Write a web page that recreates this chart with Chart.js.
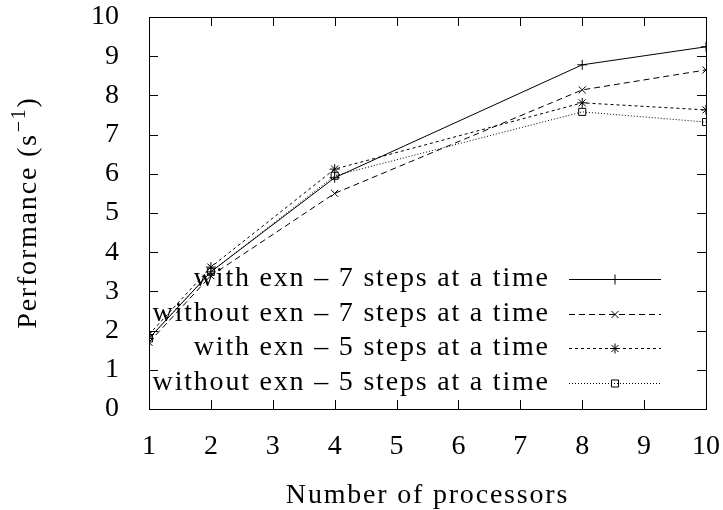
<!DOCTYPE html>
<html>
<head>
<meta charset="utf-8">
<script src="https://cdn.jsdelivr.net/npm/chart.js@4/dist/chart.umd.min.js"></script>
<style>
  html, body { margin: 0; padding: 0; background: #fff; }
  #wrap { width: 723px; height: 510px; }
</style>
</head>
<body>
<div id="wrap"><canvas id="graficoPerformance"></canvas></div>
<script>
// dados
var processadores = [1, 2, 4, 8, 10];
var comExn7 = [1.8, 3.5, 5.9, 8.78, 9.24];
var semExn7 = [1.7, 3.4, 5.5, 8.14, 8.65];
var comExn5 = [1.9, 3.62, 6.12, 7.81, 7.63];
var semExn5 = [1.8, 3.5, 5.95, 7.58, 7.32];
var rotulos = [
	'with exn \u2013 7 steps at a time',
	'without exn \u2013 7 steps at a time',
	'with exn \u2013 5 steps at a time',
	'without exn \u2013 5 steps at a time'
];
var ticksX = [1, 2, 3, 4, 5, 6, 7, 8, 9, 10];
var ticksY = [0, 1, 2, 3, 4, 5, 6, 7, 8, 9, 10];
var tituloX = 'Number of processors';

var fonte = '"Liberation Serif", "DejaVu Serif", serif';
var tamanho = 28;
var espacamento = '1.8px';

function serie(label, valores, tracejado, ponto) {
	return {
		label: label,
		data: valores.map(function(v, i) { return { x: processadores[i], y: v }; }),
		borderColor: '#000',
		backgroundColor: 'rgba(0,0,0,0)',
		borderWidth: 1,
		borderDash: tracejado,
		pointStyle: ponto,
		pointRadius: 5,
		pointBorderColor: '#000',
		pointBorderWidth: 1,
		pointBackgroundColor: 'rgba(0,0,0,0)',
		tension: 0
	};
}

// moldura, ticks internos, titulos dos eixos e legenda no estilo gnuplot
var estiloGnuplot = {
	id: 'estiloGnuplot',
	afterDraw: function(chart) {
		var ctx = chart.ctx;
		var a = chart.chartArea;
		var sx = chart.scales.x, sy = chart.scales.y;
		ctx.save();
		ctx.strokeStyle = '#000';
		ctx.lineWidth = 1;
		ctx.setLineDash([]);
		ctx.strokeRect(a.left + 0.5, a.top + 0.5, a.right - a.left, a.bottom - a.top);
		ctx.beginPath();
		ticksX.forEach(function(t) {
			var px = Math.round(sx.getPixelForValue(t)) + 0.5;
			ctx.moveTo(px, a.bottom); ctx.lineTo(px, a.bottom - 9);
			ctx.moveTo(px, a.top); ctx.lineTo(px, a.top + 9);
		});
		ticksY.forEach(function(t) {
			var py = Math.round(sy.getPixelForValue(t)) + 0.5;
			ctx.moveTo(a.left, py); ctx.lineTo(a.left + 9, py);
			ctx.moveTo(a.right, py); ctx.lineTo(a.right - 9, py);
		});
		ctx.stroke();

		ctx.fillStyle = '#000';
		ctx.letterSpacing = espacamento;

		// titulo do eixo x
		ctx.font = tamanho + 'px ' + fonte;
		ctx.textAlign = 'center';
		ctx.textBaseline = 'alphabetic';
		ctx.fillText(tituloX, (a.left + a.right) / 2, 503);

		// titulo do eixo y com expoente
		ctx.save();
		ctx.translate(36, (a.top + a.bottom) / 2);
		ctx.rotate(-Math.PI / 2);
		ctx.textAlign = 'left';
		var base = 'Performance (s';
		var expo = '\u22121';
		ctx.font = tamanho + 'px ' + fonte;
		var wBase = ctx.measureText(base).width;
		var wFecha = ctx.measureText(')').width;
		ctx.font = Math.round(tamanho * 0.7) + 'px ' + fonte;
		var wExpo = ctx.measureText(expo).width;
		var x0 = -(wBase + wExpo + wFecha) / 2;
		ctx.font = tamanho + 'px ' + fonte;
		ctx.fillText(base, x0, 0);
		ctx.fillText(')', x0 + wBase + wExpo + 1, 0);
		ctx.font = Math.round(tamanho * 0.7) + 'px ' + fonte;
		ctx.fillText(expo, x0 + wBase + 1, -11);
		ctx.restore();

		// legenda
		ctx.font = tamanho + 'px ' + fonte;
		ctx.textAlign = 'right';
		ctx.textBaseline = 'alphabetic';
		chart.data.datasets.forEach(function(ds, i) {
			var y = Math.round(279 + i * 34.6) + 0.5;
			ctx.fillStyle = '#000';
			ctx.fillText(ds.label, 548 + 1.8, y + 6);
			ctx.beginPath();
			ctx.setLineDash(ds.borderDash);
			ctx.moveTo(569, y);
			ctx.lineTo(661, y);
			ctx.stroke();
			ctx.setLineDash([]);
			ctx.fillStyle = 'rgba(0,0,0,0)';
			Chart.helpers.drawPoint(ctx, { pointStyle: ds.pointStyle, radius: 5, borderWidth: 1 }, 615, y);
		});
		ctx.restore();
	}
};

new Chart(document.getElementById('graficoPerformance').getContext('2d'), {
	type: 'line',
	data: {
		datasets: [
			serie(rotulos[0], comExn7, [], 'cross'),
			serie(rotulos[1], semExn7, [6, 4], 'crossRot'),
			serie(rotulos[2], comExn5, [3, 3], 'star'),
			serie(rotulos[3], semExn5, [1, 2], 'rect')
		]
	},
	options: {
		responsive: true,
		maintainAspectRatio: false,
		animation: false,
		devicePixelRatio: 1,
		layout: { padding: { left: 0, right: 17, top: 17, bottom: 0 } },
		plugins: { legend: { display: false }, tooltip: { enabled: false } },
		scales: {
			x: {
				type: 'linear',
				min: 1, max: 10,
				afterFit: function(s) { s.height = 101; s.paddingLeft = 0; s.paddingRight = 0; },
				afterBuildTicks: function(s) { s.ticks = ticksX.map(function(v) { return { value: v }; }); },
				grid: { display: false },
				border: { display: false },
				ticks: { color: '#000', padding: 13, maxRotation: 0, font: { family: fonte, size: tamanho } }
			},
			y: {
				type: 'linear',
				min: 0, max: 10,
				afterFit: function(s) { s.width = 149; s.paddingTop = 0; s.paddingBottom = 0; },
				afterBuildTicks: function(s) { s.ticks = ticksY.map(function(v) { return { value: v }; }); },
				grid: { display: false },
				border: { display: false },
				ticks: { color: '#000', padding: 22, font: { family: fonte, size: tamanho } }
			}
		}
	},
	plugins: [estiloGnuplot]
});
</script>
</body>
</html>
